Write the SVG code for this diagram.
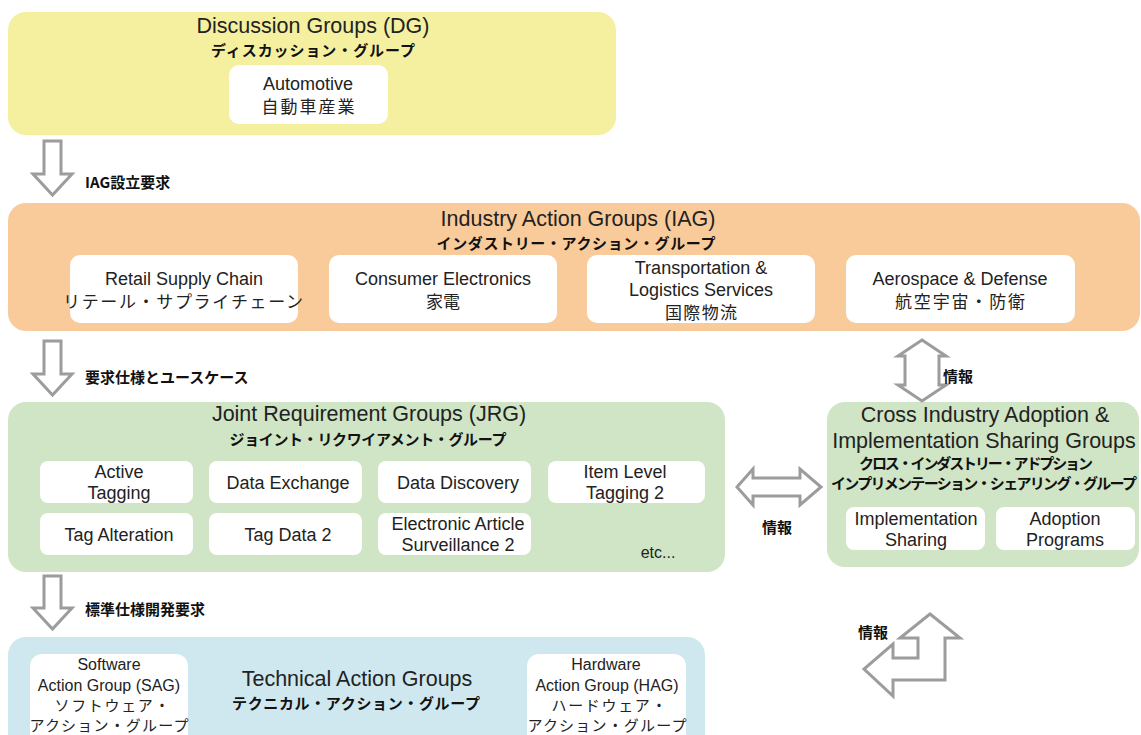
<svg xmlns="http://www.w3.org/2000/svg" width="1141" height="735" viewBox="0 0 1141 735">
  <style>
    .panel { stroke: none; }
    .dg { fill: #f4f09f; }
    .iag { fill: #f9cb9b; }
    .jrg { fill: #cfe5c5; }
    .tag { fill: #cfe8ef; }
    .card { fill: #ffffff; }
    .en { font-family: "Liberation Sans", Arial, sans-serif; fill: #222222; text-anchor: middle; }
    .title { font-size: 21.5px; }
    .item { font-size: 18px; }
    .small { font-size: 16px; }
    .ja { font-family: "Noto Sans CJK JP", sans-serif; fill: #222222; text-anchor: middle; font-size: 17px; }
    .jas { font-family: "Noto Sans CJK JP", sans-serif; fill: #222222; text-anchor: middle; font-size: 15px; }
    .jab { font-family: "Noto Sans CJK JP", sans-serif; fill: #111111; font-weight: bold; text-anchor: middle; font-size: 15px; }
    .lbl { font-family: "Noto Sans CJK JP", sans-serif; fill: #111111; font-weight: bold; font-size: 15px; }
    .flow { fill: #ffffff; stroke: #9c9c9c; stroke-width: 3; stroke-linejoin: miter; }
  </style>

  <!-- Discussion Groups -->
  <g id="dg">
    <rect class="panel dg" x="8" y="12" width="608" height="123" rx="18"/>
    <text class="en title" x="313" y="33">Discussion Groups (DG)</text>
    <text class="jab" x="313" y="56" textLength="204">ディスカッション・グループ</text>
    <g id="dg-automotive">
      <rect class="card" x="229" y="65" width="159" height="59" rx="10"/>
      <text class="en item" x="308" y="90">Automotive</text>
      <text class="ja" x="308" y="113" textLength="93">自動車産業</text>
    </g>
  </g>

  <!-- Industry Action Groups -->
  <g id="iag">
    <rect class="panel iag" x="8" y="203" width="1132" height="128" rx="18"/>
    <text class="en title" x="578" y="226">Industry Action Groups (IAG)</text>
    <text class="jab" x="576" y="249" textLength="279">インダストリー・アクション・グループ</text>
    <g id="iag-retail">
      <rect class="card" x="70" y="255" width="228" height="68" rx="10"/>
      <text class="en item" x="184" y="285">Retail Supply Chain</text>
      <text class="ja" x="183" y="308" textLength="240">リテール・サプライチェーン</text>
    </g>
    <g id="iag-consumer">
      <rect class="card" x="329" y="255" width="228" height="68" rx="10"/>
      <text class="en item" x="443" y="285">Consumer Electronics</text>
      <text class="ja" x="443" y="308">家電</text>
    </g>
    <g id="iag-transport">
      <rect class="card" x="587" y="255" width="228" height="68" rx="10"/>
      <text class="en item" x="701" y="274">Transportation &amp;</text>
      <text class="en item" x="701" y="296">Logistics Services</text>
      <text class="ja" x="701" y="319" textLength="72">国際物流</text>
    </g>
    <g id="iag-aerospace">
      <rect class="card" x="846" y="255" width="229" height="68" rx="10"/>
      <text class="en item" x="960" y="285">Aerospace &amp; Defense</text>
      <text class="ja" x="960" y="308" textLength="130">航空宇宙・防衛</text>
    </g>
  </g>

  <!-- Joint Requirement Groups -->
  <g id="jrg">
    <rect class="panel jrg" x="8" y="402" width="717" height="170" rx="18"/>
    <text class="en title" x="369" y="421">Joint Requirement Groups (JRG)</text>
    <text class="jab" x="368" y="445" textLength="277">ジョイント・リクワイアメント・グループ</text>
    <g id="jrg-active">
      <rect class="card" x="40" y="461" width="153" height="42" rx="8"/>
      <text class="en item" x="119" y="478">Active</text>
      <text class="en item" x="119" y="499">Tagging</text>
    </g>
    <g id="jrg-exchange">
      <rect class="card" x="209" y="461" width="153" height="42" rx="8"/>
      <text class="en item" x="288" y="489">Data Exchange</text>
    </g>
    <g id="jrg-discovery">
      <rect class="card" x="378" y="461" width="153" height="42" rx="8"/>
      <text class="en item" x="458" y="489">Data Discovery</text>
    </g>
    <g id="jrg-itemlevel">
      <rect class="card" x="548" y="461" width="157" height="42" rx="8"/>
      <text class="en item" x="625" y="478">Item Level</text>
      <text class="en item" x="625" y="499">Tagging 2</text>
    </g>
    <g id="jrg-alteration">
      <rect class="card" x="40" y="513" width="153" height="42" rx="8"/>
      <text class="en item" x="119" y="541">Tag Alteration</text>
    </g>
    <g id="jrg-tagdata">
      <rect class="card" x="209" y="513" width="153" height="42" rx="8"/>
      <text class="en item" x="288" y="541">Tag Data 2</text>
    </g>
    <g id="jrg-eas">
      <rect class="card" x="378" y="513" width="153" height="42" rx="8"/>
      <text class="en item" x="458" y="530">Electronic Article</text>
      <text class="en item" x="458" y="551">Surveillance 2</text>
    </g>
    <text class="en" x="658" y="558" font-size="16">etc...</text>
  </g>

  <!-- Cross Industry Adoption & Implementation Sharing Groups -->
  <g id="ciaisg">
    <rect class="panel jrg" x="827" y="402" width="312" height="165" rx="18"/>
    <text class="en title" x="985" y="422">Cross Industry Adoption &amp;</text>
    <text class="en title" x="984" y="448">Implementation Sharing Groups</text>
    <text class="jab" x="976" y="469" font-size="13" textLength="234">クロス・インダストリー・アドプション</text>
    <text class="jab" x="984" y="489" font-size="13" textLength="306">インプリメンテーション・シェアリング・グループ</text>
    <g id="ciaisg-implementation">
      <rect class="card" x="846" y="507" width="139" height="43" rx="8"/>
      <text class="en item" x="916" y="525">Implementation</text>
      <text class="en item" x="916" y="546">Sharing</text>
    </g>
    <g id="ciaisg-adoption">
      <rect class="card" x="996" y="507" width="139" height="43" rx="8"/>
      <text class="en item" x="1065" y="525">Adoption</text>
      <text class="en item" x="1065" y="546">Programs</text>
    </g>
  </g>

  <!-- Technical Action Groups -->
  <g id="tag">
    <rect class="panel tag" x="8" y="637" width="697" height="120" rx="18"/>
    <text class="en title" x="357" y="686">Technical Action Groups</text>
    <text class="jab" x="356" y="709" textLength="248">テクニカル・アクション・グループ</text>
    <g id="tag-sag">
      <rect class="card" x="30" y="654" width="158" height="100" rx="12"/>
      <text class="en small" x="109" y="670">Software</text>
      <text class="en small" x="109" y="691">Action Group (SAG)</text>
      <text class="jas" x="112" y="711" textLength="115">ソフトウェア・</text>
      <text class="jas" x="109" y="731" textLength="159">アクション・グループ</text>
    </g>
    <g id="tag-hag">
      <rect class="card" x="527" y="654" width="159" height="100" rx="12"/>
      <text class="en small" x="606" y="670">Hardware</text>
      <text class="en small" x="607" y="691">Action Group (HAG)</text>
      <text class="jas" x="609" y="711" textLength="115">ハードウェア・</text>
      <text class="jas" x="607" y="731" textLength="159">アクション・グループ</text>
    </g>
  </g>

  <!-- Connectors: hollow block arrows with labels -->
  <g id="connectors">
    <path class="flow" d="M44,141 H61 V174 H72 L52.5,195 L33,174 H44 Z"/>
    <text class="lbl" x="85" y="188">IAG設立要求</text>

    <path class="flow" d="M44,341 H61 V374 H72 L52.5,395 L33,374 H44 Z"/>
    <text class="lbl" x="85" y="383">要求仕様とユースケース</text>

    <path class="flow" d="M44,576 H61 V608 H72 L52.5,629 L33,608 H44 Z"/>
    <text class="lbl" x="85" y="615">標準仕様開発要求</text>

    <path class="flow" d="M922,340 L946,356 H939 V385 H946 L922,401 L898,385 H905 V356 H898 Z"/>
    <text class="lbl" x="943" y="382">情報</text>

    <path class="flow" d="M737,487 L753,469 V478 H800 V469 L821,487 L800,505 V496 H753 V505 Z"/>
    <text class="lbl" x="762" y="533">情報</text>

    <path class="flow" d="M930,614 L960,638 H945 V680 H893 V696 L864,669 L893,644 V658 H918 V638 H900 Z"/>
    <text class="lbl" x="858" y="638">情報</text>
  </g>
</svg>
